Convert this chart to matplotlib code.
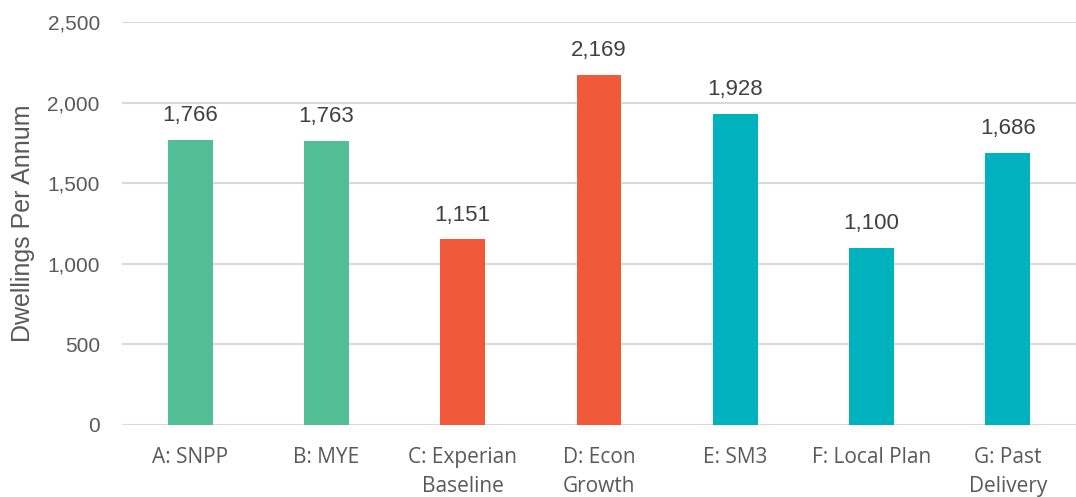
import matplotlib
matplotlib.use("Agg")
import matplotlib.pyplot as plt
from matplotlib.ticker import FuncFormatter

categories = ["A: SNPP", "B: MYE", "C: Experian\nBaseline", "D: Econ\nGrowth",
              "E: SM3", "F: Local Plan", "G: Past\nDelivery"]
values = [1766, 1763, 1151, 2169, 1928, 1100, 1686]
colors = ["#52BE96", "#52BE96", "#F05A3A", "#F05A3A", "#00B2BE", "#00B2BE", "#00B2BE"]

fig = plt.figure(figsize=(10.76, 4.97), dpi=100)
ax = fig.add_axes([0.1134, 0.1449, 0.8866, 0.8108])

x = list(range(len(categories)))
bars = ax.bar(x, values, width=0.33, color=colors, zorder=3)
for xi, v in zip(x, values):
    ax.annotate(f"{v:,}", (xi, v), xytext=(0, 10), textcoords="offset points",
                ha="center", va="bottom", fontsize=16, color="#404040",
                family="Liberation Sans")

ax.set_xlim(-0.5, 6.5)
ax.set_ylim(0, 2500)
ax.set_yticks([0, 500, 1000, 1500, 2000, 2500])
ax.yaxis.set_major_formatter(FuncFormatter(lambda v, p: f"{int(v):,}"))
ax.grid(axis="y", color="#d9d9d9", linewidth=1.5, zorder=0)
ax.set_xticks(x)
ax.set_xticklabels(categories, fontsize=15, color="#595959", family="Open Sans",
                   linespacing=1.5)
for lab in ax.get_yticklabels():
    lab.set_fontsize(15)
    lab.set_color("#595959")
    lab.set_family("Liberation Sans")
ax.tick_params(axis="both", length=0)
ax.tick_params(axis="x", pad=16)
ax.tick_params(axis="y", pad=16)
for s in ax.spines.values():
    s.set_visible(False)
ax.set_ylabel("Dwellings Per Annum", fontsize=18, color="#595959",
              family="Liberation Sans", labelpad=9)

fig.savefig("out.png", dpi=100)
